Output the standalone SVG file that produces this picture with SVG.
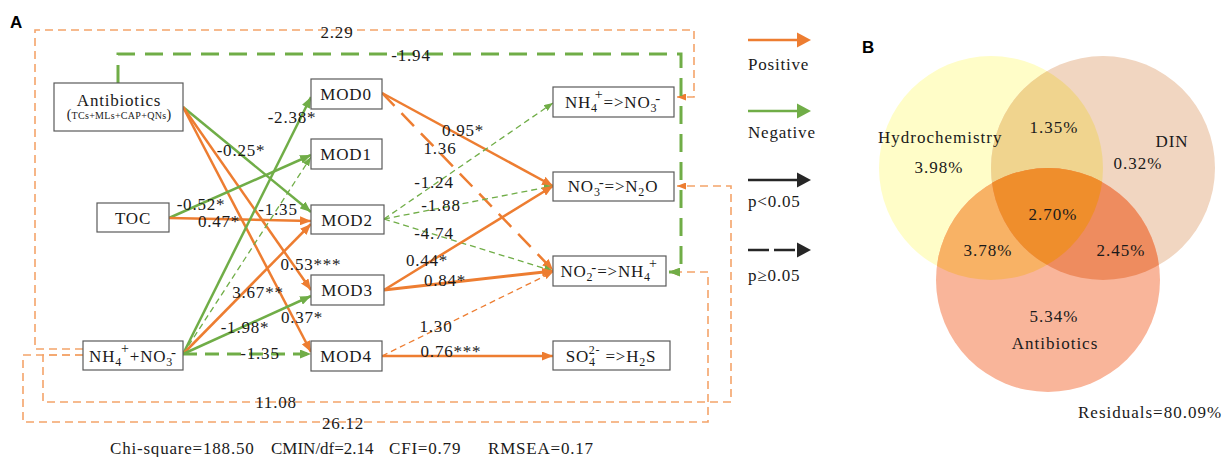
<svg xmlns="http://www.w3.org/2000/svg" width="1231" height="457" viewBox="0 0 1231 457">
<style>
.t{font-family:"Liberation Serif","Times New Roman",serif;font-size:17px;letter-spacing:0.8px;fill:#1a1a1a}
.m{text-anchor:middle}
.box{fill:#fff;stroke:#5a5a5a;stroke-width:1.2}
.o{fill:none;stroke:#ED7D31;stroke-width:2.5}
.g{fill:none;stroke:#70AD47;stroke-width:2.5}
.od{fill:none;stroke:#ED7D31;stroke-width:2.5;stroke-dasharray:18 10}
.gd{fill:none;stroke:#70AD47;stroke-width:3;stroke-dasharray:18 10}
.gt{fill:none;stroke:#70AD47;stroke-width:1.3;stroke-dasharray:6 4}
.ot{fill:none;stroke:#ED7D31;stroke-width:1.3;stroke-dasharray:6 4}
.cv{fill:none;stroke:#F4A46A;stroke-width:1.6;stroke-dasharray:8 5}
.v{font-family:"Liberation Serif","Times New Roman",serif;font-size:17px;letter-spacing:1px;fill:#1a1a1a}
</style>
<defs>
<marker id="aO" markerUnits="userSpaceOnUse" markerWidth="11" markerHeight="9" refX="11" refY="4.5" orient="auto"><path d="M0,0 L11,4.5 L0,9 z" fill="#ED7D31"/></marker>
<marker id="aG" markerUnits="userSpaceOnUse" markerWidth="11" markerHeight="9" refX="11" refY="4.5" orient="auto"><path d="M0,0 L11,4.5 L0,9 z" fill="#70AD47"/></marker>
<marker id="aGs" markerUnits="userSpaceOnUse" markerWidth="9" markerHeight="7" refX="9" refY="3.5" orient="auto"><path d="M0,0 L9,3.5 L0,7 z" fill="#70AD47"/></marker>
<marker id="aOs" markerUnits="userSpaceOnUse" markerWidth="9" markerHeight="7" refX="9" refY="3.5" orient="auto"><path d="M0,0 L9,3.5 L0,7 z" fill="#ED7D31"/></marker>
<clipPath id="cH"><circle cx="991" cy="168" r="112"/></clipPath>
<clipPath id="cD"><circle cx="1103" cy="168" r="112"/></clipPath>
</defs>

<text x="10" y="28" style="font-family:'Liberation Sans',Arial,sans-serif;font-size:17px;font-weight:bold">A</text>
<text x="862" y="53" style="font-family:'Liberation Sans',Arial,sans-serif;font-size:17px;font-weight:bold">B</text>

<g id="connectors">
<path class="cv" d="M83,349 H35 V30 H694 V97 H677" marker-end="url(#aOs)"/>
<path class="cv" d="M83,355 H43 V402 H731 V186 H677" marker-end="url(#aOs)"/>
<path class="cv" d="M83,355 H23 V422 H708 V272 H669" marker-end="url(#aOs)"/>
<path class="gd" d="M118,83 V54 H681 V272 H669" marker-end="url(#aG)"/>
<line class="g" x1="183" y1="107" x2="311" y2="212" marker-end="url(#aG)"/>
<line class="o" x1="183" y1="107" x2="311" y2="290" marker-end="url(#aO)"/>
<line class="o" x1="183" y1="107" x2="311" y2="352" marker-end="url(#aO)"/>
<line class="g" x1="169" y1="218" x2="311" y2="155" marker-end="url(#aG)"/>
<line class="o" x1="169" y1="218" x2="311" y2="221" marker-end="url(#aO)"/>
<line class="g" x1="183" y1="354" x2="311" y2="97" marker-end="url(#aG)"/>
<line class="gt" x1="183" y1="354" x2="311" y2="157" marker-end="url(#aGs)"/>
<line class="o" x1="183" y1="354" x2="311" y2="224" marker-end="url(#aO)"/>
<line class="g" x1="183" y1="354" x2="311" y2="296" marker-end="url(#aG)"/>
<line class="gd" style="stroke-dasharray:14 8" x1="183" y1="354" x2="311" y2="354" marker-end="url(#aG)"/>
<line class="o" x1="382" y1="93" x2="553" y2="186" marker-end="url(#aO)"/>
<line class="od" x1="382" y1="93" x2="553" y2="270" marker-end="url(#aO)"/>
<line class="gt" x1="384" y1="219" x2="553" y2="103" marker-end="url(#aGs)"/>
<line class="gt" x1="384" y1="219" x2="553" y2="186" marker-end="url(#aGs)"/>
<line class="gt" x1="384" y1="219" x2="553" y2="271" marker-end="url(#aGs)"/>
<line class="o" x1="384" y1="290" x2="553" y2="186" marker-end="url(#aO)"/>
<line class="o" style="stroke-width:3" x1="384" y1="290" x2="553" y2="271" marker-end="url(#aO)"/>
<line class="ot" x1="382" y1="356" x2="553" y2="272" marker-end="url(#aOs)"/>
<line class="o" x1="382" y1="356" x2="553" y2="356" marker-end="url(#aO)"/>
</g>

<g id="edge-labels" class="t m">
<text x="337" y="38">2.29</text>
<text x="411" y="61">-1.94</text>
<text x="292" y="123">-2.38*</text>
<text x="241" y="156">-0.25*</text>
<text x="201" y="210">-0.52*</text>
<text x="219" y="227">0.47*</text>
<text x="278" y="215">-1.35</text>
<text x="311" y="270">0.53***</text>
<text x="258" y="298">3.67**</text>
<text x="302" y="323">0.37*</text>
<text x="245" y="333">-1.98*</text>
<text x="260" y="359">-1.35</text>
<text x="463" y="136">0.95*</text>
<text x="440" y="154">1.36</text>
<text x="434" y="188">-1.24</text>
<text x="441" y="211">-1.88</text>
<text x="434" y="239">-4.74</text>
<text x="427" y="266">0.44*</text>
<text x="445" y="286">0.84*</text>
<text x="436" y="332">1.30</text>
<text x="451" y="357">0.76***</text>
<text x="276" y="408">11.08</text>
<text x="343" y="429">26.12</text>
</g>

<g id="node-antibiotics">
<rect class="box" x="54" y="83" width="129" height="48"/>
<text class="t m" x="119" y="106">Antibiotics</text>
<text class="t m" x="119" y="119" style="font-size:10px;letter-spacing:0.3px"><tspan style="font-size:14px">(</tspan>TCs+MLs+CAP+QNs<tspan style="font-size:14px">)</tspan></text>
</g>
<g id="node-toc">
<rect class="box" x="97" y="203" width="72" height="29"/>
<text class="t m" x="133" y="224">TOC</text>
</g>
<g id="node-nh4no3">
<rect class="box" x="83" y="341" width="100" height="29"/>
<text class="t m" x="133" y="362">NH<tspan style="font-size:12px" dy="4">4</tspan><tspan style="font-size:14px" dx="-1" dy="-13">+</tspan><tspan dy="9">+NO</tspan><tspan style="font-size:12px" dy="4">3</tspan><tspan style="font-size:15px" dx="-2" dy="-9">-</tspan></text>
</g>
<g id="node-mod0">
<rect class="box" x="311" y="79" width="71" height="30"/>
<text class="t m" x="346" y="100">MOD0</text>
</g>
<g id="node-mod1">
<rect class="box" x="311" y="139" width="71" height="30"/>
<text class="t m" x="346" y="160">MOD1</text>
</g>
<g id="node-mod2">
<rect class="box" x="311" y="205" width="73" height="29"/>
<text class="t m" x="347" y="226">MOD2</text>
</g>
<g id="node-mod3">
<rect class="box" x="311" y="275" width="73" height="30"/>
<text class="t m" x="347" y="296">MOD3</text>
</g>
<g id="node-mod4">
<rect class="box" x="311" y="341" width="71" height="30"/>
<text class="t m" x="346" y="362">MOD4</text>
</g>
<g id="node-nh4-no3">
<rect class="box" x="553" y="87" width="121" height="30"/>
<text class="t m" x="613" y="108">NH<tspan style="font-size:12px" dy="4">4</tspan><tspan style="font-size:14px" dx="-3" dy="-13">+</tspan><tspan dy="9">=&gt;NO</tspan><tspan style="font-size:12px" dy="4">3</tspan><tspan style="font-size:15px" dx="-2" dy="-9">-</tspan></text>
</g>
<g id="node-no3-n2o">
<rect class="box" x="553" y="172" width="121" height="29"/>
<text class="t m" x="613" y="192">NO<tspan style="font-size:12px" dy="4">3</tspan><tspan style="font-size:15px" dx="-2" dy="-9">-</tspan><tspan dy="5">=&gt;N</tspan><tspan style="font-size:12px" dy="4">2</tspan><tspan dy="-4">O</tspan></text>
</g>
<g id="node-no2-nh4">
<rect class="box" x="553" y="256" width="113" height="30"/>
<text class="t m" x="609" y="277">NO<tspan style="font-size:12px" dy="4">2</tspan><tspan style="font-size:15px" dx="-2" dy="-9">-</tspan><tspan dy="5">=&gt;NH</tspan><tspan style="font-size:12px" dy="4">4</tspan><tspan style="font-size:14px" dx="-2" dy="-13">+</tspan></text>
</g>
<g id="node-so4-h2s">
<rect class="box" x="553" y="341" width="117" height="29"/>
<text class="t m" x="611" y="362">SO<tspan style="font-size:12px" dy="4">4</tspan><tspan style="font-size:12px" dx="-7" dy="-12">2-</tspan><tspan dy="8"> =&gt;H</tspan><tspan style="font-size:12px" dy="4">2</tspan><tspan dy="-4">S</tspan></text>
</g>

<text class="t" x="110" y="454">Chi-square=188.50</text>
<text class="t" x="271" y="454" style="letter-spacing:0px">CMIN/df=2.14</text>
<text class="t" x="389" y="454">CFI=0.79</text>
<text class="t" x="488" y="454">RMSEA=0.17</text>

<g id="legend">
<line x1="748" y1="40" x2="798" y2="40" stroke="#ED7D31" stroke-width="2.5"/>
<path d="M797,32.5 L811,40 L797,47.5 z" fill="#ED7D31"/>
<text class="t" x="748" y="70">Positive</text>
<line x1="748" y1="111" x2="798" y2="111" stroke="#70AD47" stroke-width="2.5"/>
<path d="M797,103.5 L811,111 L797,118.5 z" fill="#70AD47"/>
<text class="t" x="748" y="138">Negative</text>
<line x1="748" y1="180" x2="798" y2="180" stroke="#262626" stroke-width="2.5"/>
<path d="M797,172.5 L811,180 L797,187.5 z" fill="#262626"/>
<text class="t" x="748" y="207">p&lt;0.05</text>
<line x1="748" y1="250" x2="798" y2="250" stroke="#262626" stroke-width="2.5" stroke-dasharray="21 5"/>
<path d="M797,242.5 L811,250 L797,257.5 z" fill="#262626"/>
<text class="t" x="748" y="281">p≥0.05</text>
</g>

<g id="venn">
<circle cx="991" cy="168" r="112" fill="#FFFDC8"/>
<circle cx="1103" cy="168" r="112" fill="#F1D6C1"/>
<circle cx="1048" cy="280" r="112" fill="#F9B59A"/>
<circle cx="1103" cy="168" r="112" fill="#F0D48E" clip-path="url(#cH)"/>
<circle cx="1048" cy="280" r="112" fill="#F8B265" clip-path="url(#cH)"/>
<circle cx="1048" cy="280" r="112" fill="#EE8C5F" clip-path="url(#cD)"/>
<g clip-path="url(#cH)"><circle cx="1048" cy="280" r="112" fill="#EF8E2C" clip-path="url(#cD)"/></g>
<text class="v" x="878" y="143">Hydrochemistry</text>
<text class="v m" x="939" y="173">3.98%</text>
<text class="v m" x="1054" y="133">1.35%</text>
<text class="v m" x="1172" y="147">DIN</text>
<text class="v m" x="1138" y="169">0.32%</text>
<text class="v m" x="1053" y="220">2.70%</text>
<text class="v m" x="988" y="256">3.78%</text>
<text class="v m" x="1121" y="256">2.45%</text>
<text class="v m" x="1054" y="322">5.34%</text>
<text class="v m" x="1055" y="349">Antibiotics</text>
<text class="v" x="1078" y="418">Residuals=80.09%</text>
</g>
</svg>
